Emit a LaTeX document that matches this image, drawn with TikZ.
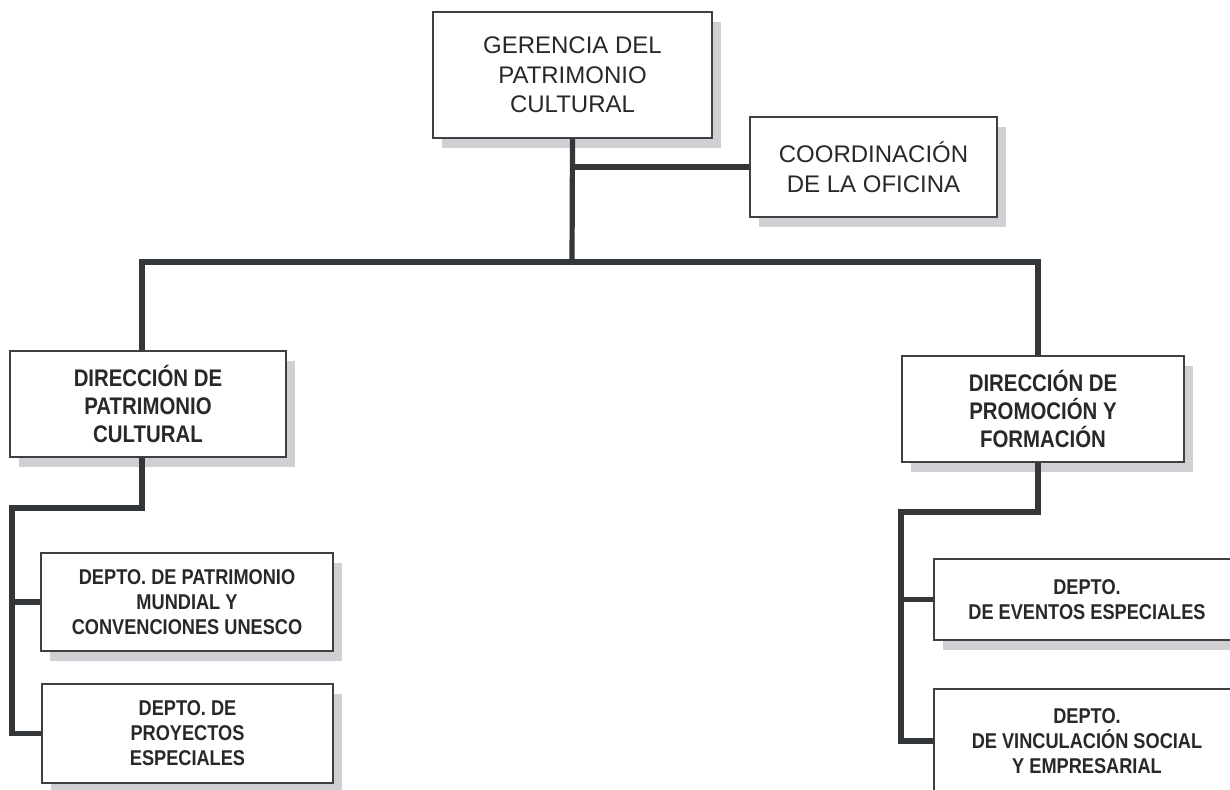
\documentclass[tikz,border=0pt]{standalone}
\usepackage{fontspec}
\setmainfont{Liberation Sans}
\newfontfamily\narrowfont{Liberation Sans Bold}[FakeStretch=0.85]
\usetikzlibrary{shadows}
\definecolor{linegray}{RGB}{52,55,58}
\definecolor{shadowgray}{RGB}{208,208,212}
\definecolor{textgray}{RGB}{40,40,42}
\newcommand*{\headstyle}{\fontsize{12}{14.8}\selectfont\color{textgray}}
\newcommand*{\dirstyle}{\narrowfont\fontsize{12}{14.2}\selectfont\color{textgray}}
\newcommand*{\deptstyle}{\narrowfont\fontsize{10.7}{12.5}\selectfont\color{textgray}}
\tikzset{
   orgbox/.style = {
      draw         = black!75,
      line width   = 0.7pt,
      fill         = white,
      align        = center,
      inner sep    = 0pt,
      drop shadow  = {shadow xshift=4.5pt, shadow yshift=-5pt,
                      fill=shadowgray, opacity=1}
   },
   link/.style = {draw=linegray, line width=2.6pt, line join=miter}
}

\begin{document}
\begin{tikzpicture}[x=0.5pt, y=-0.5pt]
   \fill[white] (0,0) rectangle (1230,789);
   \useasboundingbox (0,0) rectangle (1230,789);

   % top level
   \node (top) at (572.5,75) [orgbox, minimum width=139.5pt, minimum height=63pt,
      font=\headstyle]{GERENCIA DEL\\PATRIMONIO\\CULTURAL};
   \node (coord) at (873.5,167) [orgbox, minimum width=123.5pt, minimum height=50pt,
      font=\headstyle]{COORDINACIÓN\\DE LA OFICINA};

   % directions
   \node (dirL) at (148,404) [orgbox, minimum width=138pt, minimum height=53pt,
      font=\dirstyle]{DIRECCIÓN DE\\PATRIMONIO\\CULTURAL};
   \node (dirR) at (1043,409) [orgbox, minimum width=141pt, minimum height=53pt,
      font=\dirstyle]{DIRECCIÓN DE\\PROMOCIÓN Y\\FORMACIÓN};

   % departments
   \node (deptL1) at (187,602) [orgbox, minimum width=146pt, minimum height=49pt,
      font=\deptstyle]{DEPTO. DE PATRIMONIO\\MUNDIAL Y\\CONVENCIONES UNESCO};
   \node (deptL2) at (187.5,733.5) [orgbox, minimum width=145.5pt, minimum height=49.5pt,
      font=\deptstyle]{DEPTO. DE\\PROYECTOS\\ESPECIALES};
   \node (deptR1) at (1087,599.5) [orgbox, minimum width=153pt, minimum height=40.5pt,
      font=\deptstyle]{DEPTO.\\DE EVENTOS ESPECIALES};
   \node (deptR2) at (1087,741) [orgbox, minimum width=153pt, minimum height=52pt,
      font=\deptstyle]{DEPTO.\\DE VINCULACIÓN SOCIAL\\Y EMPRESARIAL};

   \coordinate (bus)    at (572,262);
   \coordinate (busL)   at (142,262);
   \coordinate (busR)   at (1038,262);
   \coordinate (spineL) at (12,508);
   \coordinate (spineR) at (901,512);

   \draw[link] (top.south) -- (bus);
   \draw[link] (top.south |- coord.west) -- (coord.west);
   \draw[link] (busL |- dirL.north) -- (busL) -- (busR) -- (busR |- dirR.north);

   \draw[link] (busL |- dirL.south) |- (spineL) |- (deptL2.west);
   \draw[link] (spineL |- deptL1.west) -- (deptL1.west);
   \draw[link] (busR |- dirR.south) |- (spineR) |- (deptR2.west);
   \draw[link] (spineR |- deptR1.west) -- (deptR1.west);
\end{tikzpicture}
\end{document}
